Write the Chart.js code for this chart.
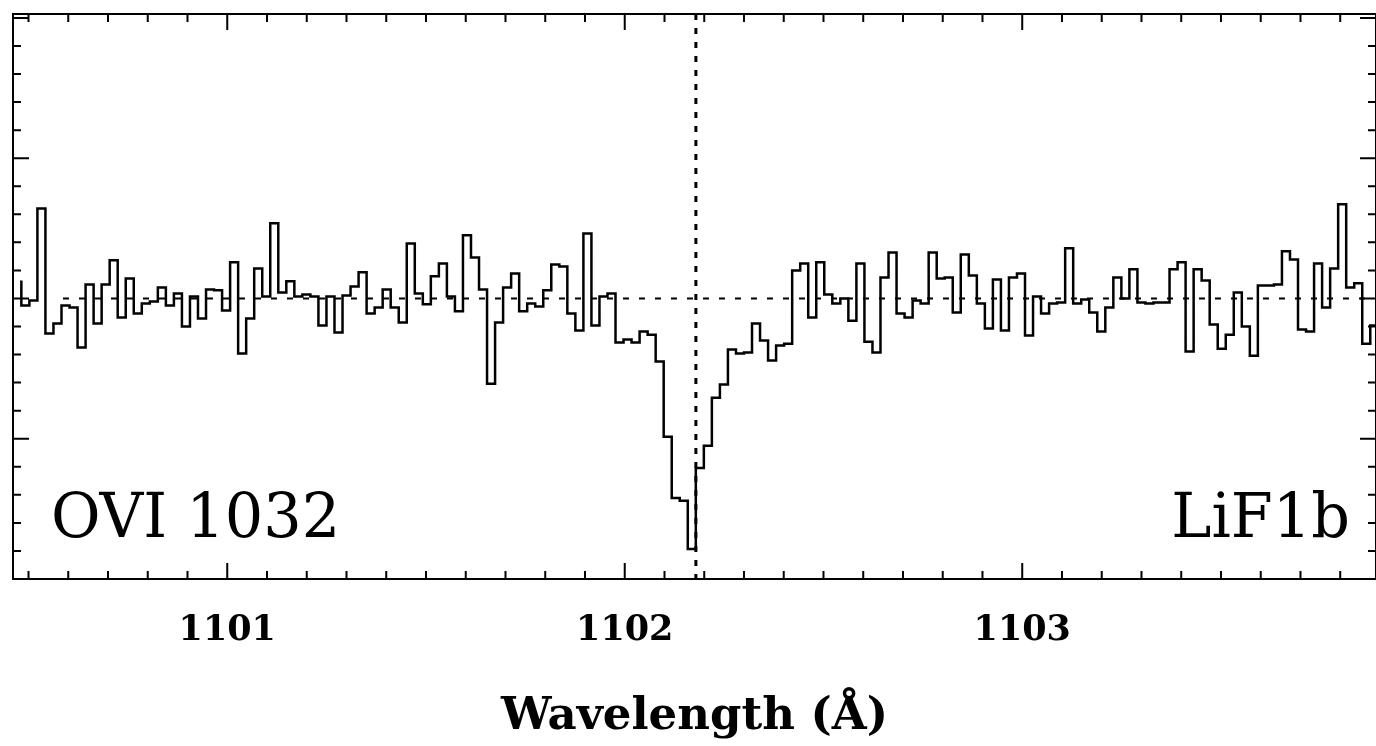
<!DOCTYPE html>
<html>
<head>
<meta charset="utf-8">
<script src="https://cdn.jsdelivr.net/npm/chart.js@4"></script>
<style>
  html, body { margin: 0; padding: 0; background: #fff; }
  #wrap { width: 1376px; height: 746px; position: relative; }
</style>
</head>
<body>
<div id="wrap"><canvas id="spec"></canvas></div>
<script>
/* spectrum data (FUSE LiF1b, O VI 1032 region) */
const lambdaStart = 1100.482;
const lambdaStep = 0.0202;
const flux = [
  1.064, 0.975, 0.993, 1.321, 0.875, 0.911, 0.975, 0.968, 0.825, 1.05, 0.911, 1.05, 1.136, 0.932, 1.071, 0.946,
  0.982, 0.989, 1.039, 0.975, 1.018, 0.9, 1.007, 0.929, 1.032, 1.029, 0.957, 1.129, 0.804, 0.929, 1.107, 1.007,
  1.268, 1.021, 1.061, 1.007, 1.014, 1.007, 0.904, 1.007, 0.879, 1.011,
  1.043, 1.093, 0.946, 0.968, 1.032, 0.968, 0.914, 1.196, 1.018, 0.979, 1.079, 1.125, 1.007, 0.954, 1.225, 1.146,
  1.032, 0.696, 0.914, 1.039, 1.089, 0.954, 0.982, 0.971, 1.029, 1.121, 1.114, 0.946, 0.886, 1.232, 0.904, 1.007,
  1.018, 0.843, 0.854, 0.843, 0.882, 0.871, 0.775, 0.507, 0.289, 0.279, 0.107,
  0.396, 0.475, 0.646, 0.693, 0.818, 0.804, 0.807, 0.911, 0.85, 0.779, 0.832, 0.839, 1.1, 1.125, 0.932, 1.129,
  1.014, 0.982, 1.0, 0.921, 1.125, 0.846, 0.807, 1.075, 1.164, 0.946, 0.932, 0.993, 0.982, 1.164, 1.071, 1.075,
  0.95, 1.157, 1.082, 0.982, 0.893, 1.068, 0.886, 1.075, 1.089,
  0.868, 1.007, 0.946, 0.982, 0.986, 1.179, 0.982, 0.996, 0.95, 0.882, 0.968, 1.075, 1.0, 1.104, 0.986, 0.982,
  0.986, 0.986, 1.104, 1.129, 0.811, 1.104, 1.064, 0.907, 0.821, 0.871, 1.021, 0.9, 0.796, 1.046, 1.046, 1.05,
  1.168, 1.139, 0.889, 0.882, 1.125, 0.968, 1.107, 1.336, 1.039, 1.054, 0.839, 0.904
];
const xMin = 1100.461, xMax = 1103.89;
const yMin = 0, yMax = 2.014;
const xMajor = [1101, 1102, 1103];
const continuum = 1.0;
const lineCenter = 1102.179;
const ionLabel = "OVI 1032";
const channelLabel = "LiF1b";

const points = flux.map((f, i) => ({ x: lambdaStart + i * lambdaStep, y: f }));
points.push({ x: lambdaStart + flux.length * lambdaStep, y: flux[flux.length - 1] });

const frame = {
  id: "frame",
  afterDatasetsDraw(chart) {
    const { ctx, chartArea: a, scales: { x, y } } = chart;
    ctx.save();
    ctx.strokeStyle = "#000";
    ctx.lineWidth = 2;
    // dashed continuum and dotted line centre
    ctx.setLineDash([6, 10]);
    ctx.beginPath();
    ctx.moveTo(a.left + 50, y.getPixelForValue(continuum));
    ctx.lineTo(a.right, y.getPixelForValue(continuum));
    ctx.stroke();
    ctx.lineWidth = 3;
    ctx.setLineDash([6, 8]);
    ctx.beginPath();
    ctx.moveTo(x.getPixelForValue(lineCenter), a.top);
    ctx.lineTo(x.getPixelForValue(lineCenter), a.bottom);
    ctx.stroke();
    ctx.setLineDash([]);
    // frame
    ctx.lineWidth = 2;
    ctx.strokeRect(a.left, a.top, a.right - a.left, a.bottom - a.top);
    // x ticks (inward, top and bottom)
    for (let k = 5; k <= 38; k++) {
      const v = 1100 + k / 10;
      const px = x.getPixelForValue(v);
      const len = k % 10 === 0 ? 16 : 8;
      ctx.beginPath();
      ctx.moveTo(px, a.bottom); ctx.lineTo(px, a.bottom - len);
      ctx.moveTo(px, a.top); ctx.lineTo(px, a.top + len);
      ctx.stroke();
    }
    // y ticks (inward, left and right)
    for (let k = 1; k <= 20; k++) {
      const py = y.getPixelForValue(k / 10);
      const len = k % 5 === 0 ? 16 : 8;
      ctx.beginPath();
      ctx.moveTo(a.left, py); ctx.lineTo(a.left + len, py);
      ctx.moveTo(a.right, py); ctx.lineTo(a.right - len, py);
      ctx.stroke();
    }
    // labels, stretched a little vertically like the original
    ctx.fillStyle = "#000";
    ctx.font = "56px 'DejaVu Serif'";
    ctx.textBaseline = "alphabetic";
    const base = a.bottom - 42;
    ctx.translate(0, base);
    ctx.scale(1.08, 1.1);
    ctx.textAlign = "left";
    ctx.fillText(ionLabel, (a.left + 38) / 1.08, 0);
    ctx.textAlign = "right";
    ctx.fillText(channelLabel, (a.right - 26) / 1.08, 0);
    ctx.restore();
  }
};

new Chart(document.getElementById("spec"), {
  type: "line",
  data: {
    datasets: [{
      data: points,
      stepped: "after",
      borderColor: "#000",
      borderWidth: 2.5,
      pointRadius: 0,
      fill: false
    }]
  },
  options: {
    responsive: true,
    maintainAspectRatio: false,
    animation: false,
    layout: { padding: { left: 13, top: 14, right: -2, bottom: 0 } },
    plugins: { legend: { display: false }, tooltip: { enabled: false } },
    scales: {
      x: {
        type: "linear",
        min: xMin,
        max: xMax,
        afterBuildTicks: s => { s.ticks = xMajor.map(v => ({ value: v })); },
        grid: { display: false, drawTicks: false },
        border: { display: false },
        ticks: {
          color: "#000",
          padding: 31,
          font: { family: "'DejaVu Serif'", size: 35, weight: "bold" },
          callback: v => String(v)
        },
        title: {
          display: true,
          text: "Wavelength (Å)",
          color: "#000",
          font: { family: "'DejaVu Serif'", size: 45, weight: "bold" },
          padding: { top: 7, bottom: 2 }
        }
      },
      y: { display: false, min: yMin, max: yMax }
    }
  },
  plugins: [frame]
});
</script>
</body>
</html>
